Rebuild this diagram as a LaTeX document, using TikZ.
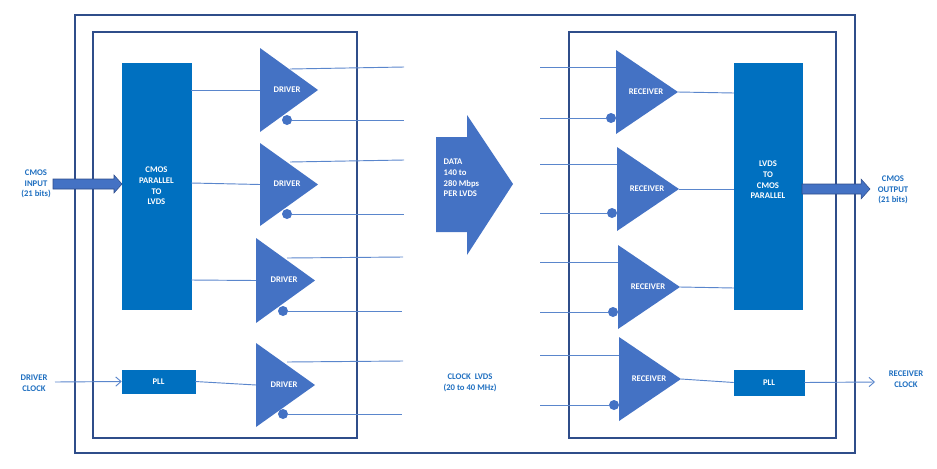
\documentclass[tikz,border=0pt]{standalone}
\usepackage{fontspec}
\setmainfont{Carlito}
\usetikzlibrary{arrows.meta}
\definecolor{tri}{HTML}{4472C4}
\definecolor{blk}{HTML}{0070C0}
\definecolor{frm}{HTML}{2F4D8A}
\definecolor{ln}{HTML}{5A86CC}
\definecolor{txt}{HTML}{1F6FC0}
\tikzset{
 frame/.style={draw=frm,line width=0.8pt},
 blockbox/.style={fill=blk,draw=blk},
 wt/.style={text=white,font=\fontsize{6.5}{8}\selectfont\bfseries,align=center},
 bt/.style={text=txt,font=\fontsize{6.5}{8}\selectfont\bfseries,align=center},
 wire/.style={draw=ln,line width=0.7pt},
 bub/.style={circle,fill=tri,inner sep=0pt,minimum size=7.5pt},
 tri/.style={fill=tri},
}
\begin{document}
\begin{tikzpicture}[x=0.75pt,y=-0.75pt]
\useasboundingbox (0,0) rectangle (937,468);
\draw[frame] (75,15) rectangle (855,453);
\draw[frame] (93,32) rectangle (357,438);
\draw[frame] (569,32) rectangle (836,438);
% left blocks
\node[blockbox,minimum width=51.75pt,minimum height=184.5pt] (lb) at (156.5,186) {};
\node[wt] at (lb) {CMOS\\PARALLEL\\TO\\LVDS};
\node[blockbox,minimum width=54.75pt,minimum height=17.25pt,wt] (lpll) at (158.5,381.5) {PLL};
% drivers
\foreach \i/\l/\t/\b/\tx in {1/260/48/132/318, 2/260/143/226/318, 3/256/238/323/315, 4/256/343/427/315}{
  \fill[tri] (\l,\t) -- (\tx,{(\t+\b)/2}) -- (\l,\b) -- cycle;
  \coordinate (din\i) at (\l,{(\t+\b)/2});
}
\node[wt] at (287,90) {DRIVER};
\node[wt] at (287,184) {DRIVER};
\node[wt] at (284,280) {DRIVER};
\node[wt] at (284,385) {DRIVER};
% driver outputs
\foreach \a/\y/\b/\yy in {290/69/404/67, 290/162/404/160, 287/258/403/257, 287/362/403/361}{
  \coordinate (s) at (\a,\y); \coordinate (e) at (\b,\yy); \draw[wire] (s) -- (e);}
\foreach \x/\y/\e in {287/120/404, 287/214/404, 283/311/402, 283/414/402}{
  \node[bub] (c) at (\x,\y) {}; \coordinate (e) at (\e,\y); \draw[wire] (c) -- (e);}
\coordinate (o1) at (191,90); \coordinate (o2) at (191,183); \coordinate (o3) at (191,280);
\draw[wire] (o1) -- (din1); \draw[wire] (o2) -- (din2); \draw[wire] (o3) -- (din3);
\draw[wire] (lpll.east) -- (din4);
% inputs left
\coordinate (ia) at (53,184); \coordinate (ib) at (122,184);
\draw[draw=frm,fill=tri] (53,179) -- (114,179) -- (114,175) -- (122,184) -- (114,193) -- (114,189) -- (53,189) -- cycle;
\node[bt] at (36,184) {CMOS\\INPUT\\(21 bits)};
\node[bt] at (34,383) {DRIVER\\CLOCK};
\coordinate (dc) at (55,382);
\draw[wire,-{Straight Barb[length=4pt,width=7pt]}] (dc) -- (lpll.west);
% middle big arrow
\fill[tri] (436,137) -- (467,137) -- (467,115) -- (513,184) -- (467,255) -- (467,232) -- (436,232) -- cycle;
\node[wt,align=left,anchor=west] at (439,178) {DATA\\140 to\\280 Mbps\\PER LVDS};
\node[bt] at (470,383) {CLOCK\ \ LVDS\\(20 to 40 MHz)};
% receivers
\foreach \i/\l/\t/\b/\tx in {1/616/50/134/678, 2/617/147/231/679, 3/618/245/329/680, 4/619/337/421/681}{
  \fill[tri] (\l,\t) -- (\tx,{(\t+\b)/2}) -- (\l,\b) -- cycle;
  \coordinate (rout\i) at (\tx,{(\t+\b)/2});
  \node[wt] at ({\l+30},{(\t+\b)/2}) {RECEIVER};
}
\foreach \y/\l in {67/616, 164/617, 262/618, 355/619}{
  \coordinate (s) at (540,\y); \coordinate (e) at (\l,\y); \draw[wire] (s) -- (e);}
\foreach \y/\x in {118/611, 213/612, 312/613, 405/614}{
  \node[bub] (c) at (\x,\y) {}; \coordinate (s) at (540,\y); \draw[wire] (s) -- (c);}
\node[blockbox,minimum width=51pt,minimum height=184.5pt] (rb) at (768,186) {};
\node[wt] at (768,180) {LVDS\\TO\\CMOS\\PARALLEL};
\node[blockbox,minimum width=52.5pt,minimum height=18.75pt,wt] (rpll) at (769,382.5) {PLL};
\coordinate (r1) at (734,93); \coordinate (r2) at (734,189); \coordinate (r3) at (734,288);
\draw[wire] (rout1) -- (r1); \draw[wire] (rout2) -- (r2); \draw[wire] (rout3) -- (r3);
\draw[wire] (rout4) -- (rpll.west);
\draw[draw=frm,fill=tri] (802,184) -- (861,184) -- (861,179) -- (870,189) -- (861,199) -- (861,194) -- (802,194) -- cycle;
\node[bt] at (893,190) {CMOS\\OUTPUT\\(21 bits)};
\coordinate (rc) at (875,382);
\draw[wire,-{Straight Barb[length=4pt,width=7pt]}] (rpll.east) -- (rc);
\node[bt] at (906,379) {RECEIVER\\CLOCK};
\end{tikzpicture}
\end{document}
